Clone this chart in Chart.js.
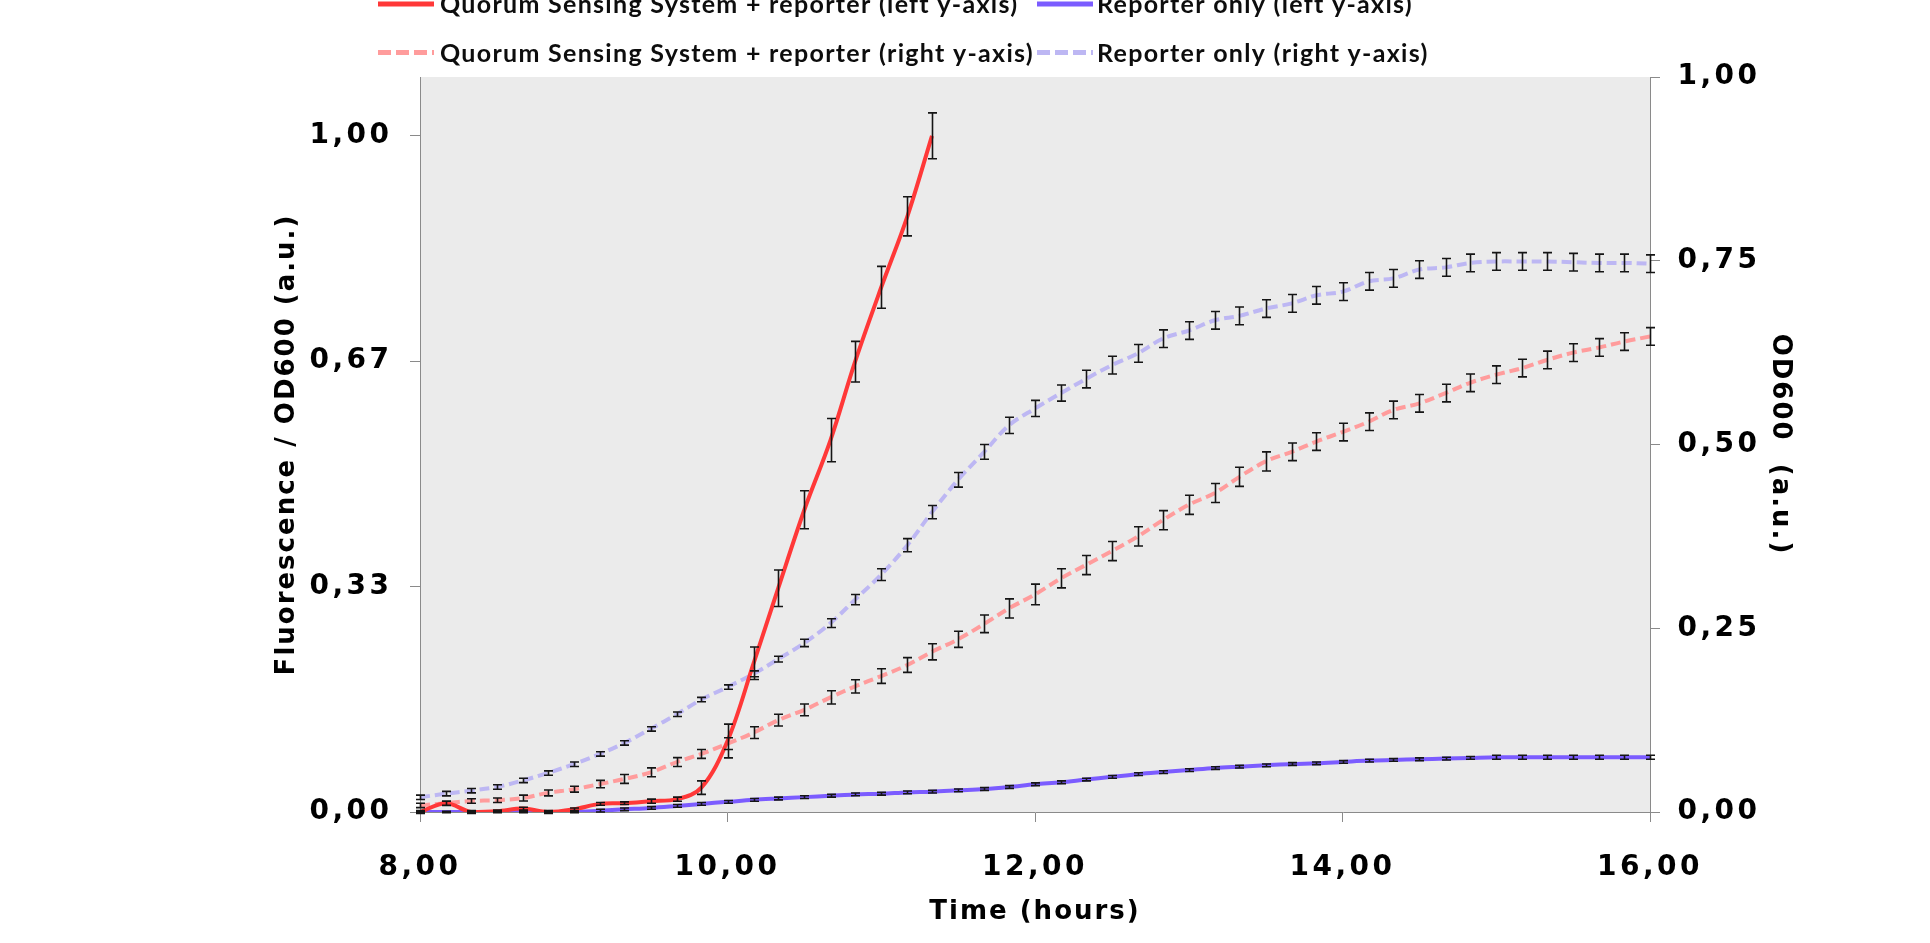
<!DOCTYPE html>
<html lang="en">
<head>
<meta charset="utf-8">
<title>Fluorescence and OD600 time course</title>
<script src="https://cdn.jsdelivr.net/npm/chart.js@4.4.1/dist/chart.umd.min.js"></script>
<style>
  html, body { margin: 0; padding: 0; background: #ffffff; overflow: hidden; }
  #wrap { width: 1930px; height: 943px; }
</style>
</head>
<body>
<div id="wrap"><canvas id="growth" width="1930" height="943"></canvas></div>
<script>
// Sampling times (hours), one reading every 10 minutes
const times = [8.00, 8.17, 8.33, 8.50, 8.67, 8.83, 9.00, 9.17, 9.33, 9.50, 9.67, 9.83,
  10.00, 10.17, 10.33, 10.50, 10.67, 10.83, 11.00, 11.17, 11.33, 11.50, 11.67, 11.83,
  12.00, 12.17, 12.33, 12.50, 12.67, 12.83, 13.00, 13.17, 13.33, 13.50, 13.67, 13.83,
  14.00, 14.17, 14.33, 14.50, 14.67, 14.83, 15.00, 15.17, 15.33, 15.50, 15.67, 15.83, 16.00];

// Fluorescence / OD600 (left axis)
const qsFluor = [0.000, 0.013, 0.000, 0.001, 0.005, 0.000, 0.004, 0.012, 0.013, 0.016, 0.019,
  0.036, 0.105, 0.220, 0.331, 0.447, 0.550, 0.666, 0.776, 0.881, 1.000];
const qsFluorErr = [0.002, 0.003, 0.002, 0.002, 0.002, 0.002, 0.002, 0.002, 0.002, 0.003, 0.003,
  0.010, 0.025, 0.024, 0.027, 0.028, 0.032, 0.030, 0.031, 0.029, 0.034];

const reporterFluor = [0.000, 0.000, 0.000, 0.000, 0.000, 0.000, 0.000, 0.002, 0.004, 0.006,
  0.009, 0.012, 0.015, 0.018, 0.020, 0.022, 0.024, 0.026, 0.027, 0.029, 0.030, 0.032, 0.034,
  0.037, 0.041, 0.044, 0.048, 0.052, 0.056, 0.059, 0.062, 0.065, 0.067, 0.069, 0.071, 0.072,
  0.074, 0.076, 0.077, 0.078, 0.079, 0.080, 0.081, 0.081, 0.081, 0.081, 0.081, 0.081, 0.081];
const reporterFluorErr = [0.001, 0.001, 0.001, 0.001, 0.001, 0.001, 0.001,
  0.002, 0.002, 0.002, 0.002, 0.002, 0.002, 0.002, 0.002, 0.002, 0.002, 0.002, 0.002, 0.002,
  0.002, 0.002, 0.002, 0.002, 0.002, 0.002, 0.002, 0.002, 0.002, 0.002, 0.002, 0.002, 0.002,
  0.002, 0.002, 0.002, 0.002, 0.002, 0.002, 0.002, 0.002, 0.002,
  0.003, 0.003, 0.003, 0.003, 0.003, 0.003, 0.003];

// OD600 (right axis)
const qsOd = [0.009, 0.012, 0.015, 0.016, 0.019, 0.026, 0.031, 0.038, 0.045, 0.054, 0.068,
  0.079, 0.093, 0.108, 0.125, 0.139, 0.156, 0.171, 0.185, 0.200, 0.218, 0.235, 0.256, 0.277,
  0.296, 0.318, 0.336, 0.355, 0.375, 0.397, 0.418, 0.434, 0.456, 0.477, 0.490, 0.504, 0.517,
  0.531, 0.547, 0.556, 0.570, 0.584, 0.595, 0.604, 0.615, 0.625, 0.632, 0.640, 0.647];
const qsOdErr = [0.003, 0.003, 0.003, 0.003, 0.004, 0.004, 0.004, 0.005, 0.006, 0.006, 0.006,
  0.006, 0.008, 0.008, 0.008, 0.008, 0.009, 0.009, 0.010, 0.010, 0.011, 0.011, 0.012, 0.013,
  0.014, 0.013, 0.013, 0.013, 0.013, 0.013, 0.013, 0.013, 0.013, 0.013, 0.012, 0.012, 0.012,
  0.012, 0.012, 0.012, 0.012, 0.012, 0.012, 0.012, 0.012, 0.012, 0.012, 0.012, 0.012];

const reporterOd = [0.020, 0.025, 0.029, 0.034, 0.043, 0.053, 0.065, 0.079, 0.094, 0.113,
  0.133, 0.153, 0.170, 0.188, 0.208, 0.230, 0.257, 0.289, 0.323, 0.363, 0.408, 0.452, 0.490,
  0.526, 0.549, 0.570, 0.589, 0.608, 0.624, 0.644, 0.655, 0.669, 0.675, 0.685, 0.692, 0.703,
  0.708, 0.722, 0.726, 0.738, 0.741, 0.747, 0.749, 0.749, 0.749, 0.748, 0.747, 0.747, 0.746];
const reporterOdErr = [0.003, 0.003, 0.003, 0.003, 0.003, 0.003, 0.003, 0.003, 0.003, 0.003,
  0.003, 0.003, 0.003, 0.004, 0.004, 0.005, 0.006, 0.007, 0.008, 0.009, 0.009, 0.010, 0.010,
  0.011, 0.011, 0.011, 0.012, 0.012, 0.012, 0.012, 0.012, 0.012, 0.012, 0.012, 0.012, 0.012,
  0.012, 0.012, 0.012, 0.012, 0.012, 0.012, 0.012, 0.012, 0.012, 0.012, 0.012, 0.012, 0.012];

// Axis ticks
const timeTicks = [8, 10, 12, 14, 16];
const fluorTicks = [0, 0.3333, 0.6667, 1];
const odTicks = [0, 0.25, 0.5, 0.75, 1];

const seriesNames = [
  'Quorum Sensing System + reporter (left y-axis)',
  'Reporter only (left y-axis)',
  'Quorum Sensing System + reporter (right y-axis)',
  'Reporter only (right y-axis)'
];

const asPoints = (vals) => vals.map((v, i) => ({ x: times[i], y: v }));
const decimalComma = (v) => Number(v).toFixed(2).replace('.', ',');

const axisGray = '#8a8a8a';
const labelFamily = "'DejaVu Sans', Verdana, sans-serif";
const tickFont = { family: labelFamily, size: 28, weight: 'bold' };
const titleFont = { family: labelFamily, size: 26, weight: 'bold' };

// Grey plot area
const plotFill = {
  id: 'plotFill',
  beforeDraw(chart, args, opts) {
    const { ctx, chartArea: a } = chart;
    ctx.save();
    ctx.fillStyle = opts.color;
    ctx.fillRect(a.left, a.top, a.right - a.left, a.bottom - a.top);
    ctx.restore();
  }
};

// Slightly wider tracking for the axis lettering (titles first, tick labels after the datasets)
const textTracking = {
  id: 'textTracking',
  beforeDraw(chart, args, opts) { chart.ctx.letterSpacing = opts.titles; },
  afterDatasetsDraw(chart, args, opts) { chart.ctx.letterSpacing = opts.ticks; }
};

// Standard-deviation whiskers for every reading
const errorBars = {
  id: 'errorBars',
  afterDatasetsDraw(chart, args, opts) {
    const { ctx } = chart;
    ctx.save();
    ctx.strokeStyle = opts.color;
    ctx.lineWidth = opts.width;
    ctx.beginPath();
    chart.data.datasets.forEach((ds, di) => {
      const meta = chart.getDatasetMeta(di);
      const yScale = chart.scales[ds.yAxisID];
      ds.errors.forEach((e, i) => {
        const el = meta.data[i];
        if (!el) return;
        const x = Math.round(el.x) + 0.5;
        const v = ds.data[i].y;
        const yTop = yScale.getPixelForValue(v + e);
        const yBot = yScale.getPixelForValue(v - e);
        ctx.moveTo(x, yTop); ctx.lineTo(x, yBot);
        ctx.moveTo(x - opts.cap, yTop); ctx.lineTo(x + opts.cap, yTop);
        ctx.moveTo(x - opts.cap, yBot); ctx.lineTo(x + opts.cap, yBot);
      });
    });
    ctx.stroke();
    ctx.restore();
  }
};

// Two-column key above the plot
const seriesKey = {
  id: 'seriesKey',
  afterDraw(chart, args, opts) {
    const { ctx } = chart;
    ctx.save();
    ctx.letterSpacing = opts.letterSpacing;
    ctx.font = opts.font;
    ctx.textAlign = 'left';
    ctx.textBaseline = 'alphabetic';
    chart.data.datasets.forEach((ds, i) => {
      const col = i % 2;
      const row = Math.floor(i / 2);
      const base = opts.baselines[row];
      const ly = base - opts.swatchRise;
      ctx.save();
      ctx.strokeStyle = ds.borderColor;
      ctx.lineWidth = opts.swatchWidth;
      ctx.setLineDash(ds.borderDash ? opts.swatchDash : []);
      ctx.beginPath();
      ctx.moveTo(opts.swatchX[col], ly);
      ctx.lineTo(opts.swatchX[col] + opts.swatchLength, ly);
      ctx.stroke();
      ctx.restore();
      ctx.fillStyle = opts.color;
      ctx.fillText(ds.label, opts.textX[col], base);
    });
    ctx.restore();
  }
};

new Chart(document.getElementById('growth'), {
  type: 'line',
  data: {
    datasets: [
      { label: seriesNames[0], data: asPoints(qsFluor), errors: qsFluorErr, yAxisID: 'yL',
        borderColor: '#ff3838', borderWidth: 4, tension: 0.35 },
      { label: seriesNames[1], data: asPoints(reporterFluor), errors: reporterFluorErr, yAxisID: 'yL',
        borderColor: '#7b5cff', borderWidth: 4, tension: 0.35 },
      { label: seriesNames[2], data: asPoints(qsOd), errors: qsOdErr, yAxisID: 'yR',
        borderColor: '#ff9c9c', borderWidth: 4, borderDash: [10, 5], tension: 0.35 },
      { label: seriesNames[3], data: asPoints(reporterOd), errors: reporterOdErr, yAxisID: 'yR',
        borderColor: '#bdb7f3', borderWidth: 4, borderDash: [10, 5], tension: 0.35 }
    ]
  },
  options: {
    responsive: false,
    animation: false,
    devicePixelRatio: 1,
    elements: { point: { radius: 0, hoverRadius: 0 }, line: { fill: false } },
    layout: { padding: { left: 263, right: 126, top: 77, bottom: 0 } },
    plugins: {
      legend: { display: false },
      tooltip: { enabled: false },
      plotFill: { color: '#ebebeb' },
      textTracking: { titles: '2px', ticks: '3.5px' },
      errorBars: { color: '#151515', width: 1.6, cap: 4.5 },
      seriesKey: {
        font: "bold 25px Lato, 'Open Sans', sans-serif",
        color: '#0d0d0d',
        letterSpacing: '1.3px',
        swatchX: [378, 1037],
        textX: [440, 1097],
        baselines: [13, 61.5],
        swatchLength: 56,
        swatchRise: 9,
        swatchWidth: 5,
        swatchDash: [13, 5]
      }
    },
    scales: {
      x: {
        type: 'linear',
        min: 8,
        max: 16,
        afterBuildTicks: (s) => { s.ticks = timeTicks.map((v) => ({ value: v })); },
        afterFit: (s) => { s.height = 131; },
        ticks: { callback: decimalComma, font: tickFont, color: '#000', padding: 28.5, z: 1,
                 maxRotation: 0, autoSkip: false },
        grid: { drawOnChartArea: false, drawTicks: true, tickLength: 10, color: axisGray, tickColor: axisGray },
        border: { display: true, color: axisGray, width: 1 },
        title: { display: true, text: 'Time (hours)', font: titleFont, color: '#000',
                 padding: { top: 0, bottom: 15.5 } }
      },
      yL: {
        type: 'linear',
        position: 'left',
        min: 0,
        max: 1.087,
        afterBuildTicks: (s) => { s.ticks = fluorTicks.map((v) => ({ value: v })); },
        afterFit: (s) => { s.width = 157; },
        ticks: { callback: decimalComma, font: tickFont, color: '#000', padding: 17.5, z: 1 },
        grid: { drawOnChartArea: false, drawTicks: true, tickLength: 10, color: axisGray, tickColor: axisGray },
        border: { display: true, color: axisGray, width: 1 },
        title: { display: true, text: 'Fluorescence / OD600 (a.u.)', font: titleFont, color: '#000',
                 padding: { top: 8.5, bottom: 0 } }
      },
      yR: {
        type: 'linear',
        position: 'right',
        min: 0,
        max: 1,
        afterBuildTicks: (s) => { s.ticks = odTicks.map((v) => ({ value: v })); },
        afterFit: (s) => { s.width = 154; },
        ticks: { callback: decimalComma, font: tickFont, color: '#000', padding: 17.5, z: 1 },
        grid: { drawOnChartArea: false, drawTicks: true, tickLength: 10, color: axisGray, tickColor: axisGray },
        border: { display: true, color: axisGray, width: 1 },
        title: { display: true, text: 'OD600  (a.u.)', font: titleFont, color: '#000',
                 padding: { top: 8.5, bottom: 0 } }
      }
    }
  },
  plugins: [plotFill, textTracking, errorBars, seriesKey]
});
</script>
</body>
</html>
